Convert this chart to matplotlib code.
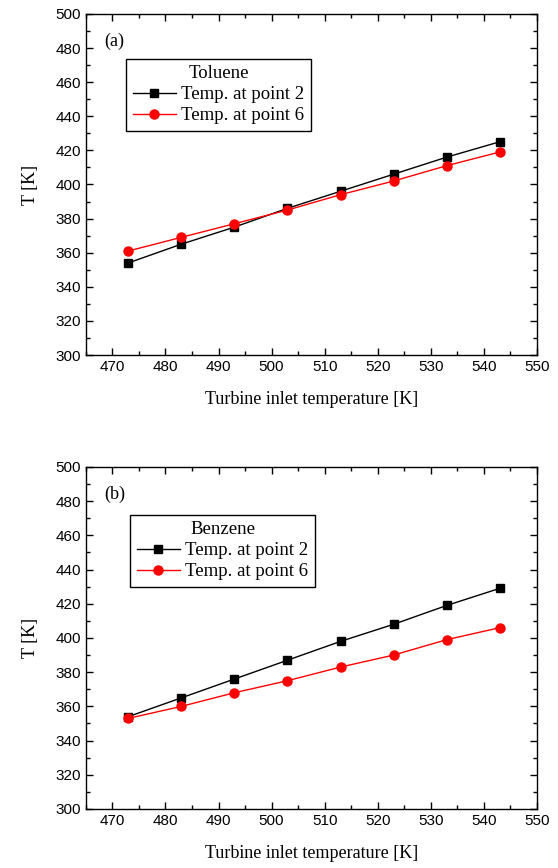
import numpy as np
import matplotlib.pyplot as plt
from matplotlib.ticker import MultipleLocator

# turbine inlet temperature [K]
tit = [473, 483, 493, 503, 513, 523, 533, 543]

# Toluene
tol_p2 = [354, 365, 375, 386, 396, 406, 416, 425]
tol_p6 = [361, 369, 377, 385, 394, 402, 411, 419]

# Benzene
ben_p2 = [354, 365, 376, 387, 398, 408, 419, 429]
ben_p6 = [353, 360, 368, 375, 383, 390, 399, 406]

serif = 'Liberation Serif'
sans = 'Liberation Sans'

fig = plt.figure(figsize=(5.58, 8.68), dpi=100)
ax1 = fig.add_axes([0.154, 0.591, 0.808, 0.393])
ax2 = fig.add_axes([0.154, 0.068, 0.808, 0.394])

panels = [
    (ax1, tol_p2, tol_p6, 'Toluene', '(a)', (0.089, 0.868)),
    (ax2, ben_p2, ben_p6, 'Benzene', '(b)', (0.098, 0.860)),
]

for ax, p2, p6, fluid, tag, anchor in panels:
    ax.plot(tit, p2, color='black', marker='s', markersize=5.5, lw=1,
            label='Temp. at point 2')
    ax.plot(tit, p6, color='red', marker='o', markersize=6.5, lw=1,
            label='Temp. at point 6')
    ax.set_xlim(465, 550)
    ax.set_ylim(300, 500)
    ax.xaxis.set_major_locator(MultipleLocator(10))
    ax.xaxis.set_minor_locator(MultipleLocator(5))
    ax.yaxis.set_major_locator(MultipleLocator(20))
    ax.yaxis.set_minor_locator(MultipleLocator(10))
    ax.tick_params(which='both', direction='in', top=True, right=True,
                   width=1.0, labelsize=11)
    ax.tick_params(which='major', length=5)
    ax.tick_params(which='minor', length=3)
    for lab in ax.get_xticklabels() + ax.get_yticklabels():
        lab.set_fontfamily(sans)
    for sp in ax.spines.values():
        sp.set_linewidth(1.0)
    ax.set_xlabel('Turbine inlet temperature [K]', fontfamily=serif,
                  fontsize=13, labelpad=12)
    ax.set_ylabel('T [K]', fontfamily=serif, fontsize=13, labelpad=12)
    ax.text(0.04, 0.92, tag, transform=ax.transAxes, fontfamily=serif,
            fontsize=13, va='center', ha='left')
    leg = ax.legend(title=fluid, loc='upper left', bbox_to_anchor=anchor,
                    borderaxespad=0, fancybox=False, edgecolor='black',
                    framealpha=1, prop={'family': serif, 'size': 13.5},
                    handlelength=2.3, handletextpad=0.3, labelspacing=0.2,
                    borderpad=0.35)
    leg.get_title().set_fontfamily(serif)
    leg.get_title().set_fontsize(13.5)
    leg.get_frame().set_linewidth(1.0)

fig.savefig('out.png', dpi=100)
